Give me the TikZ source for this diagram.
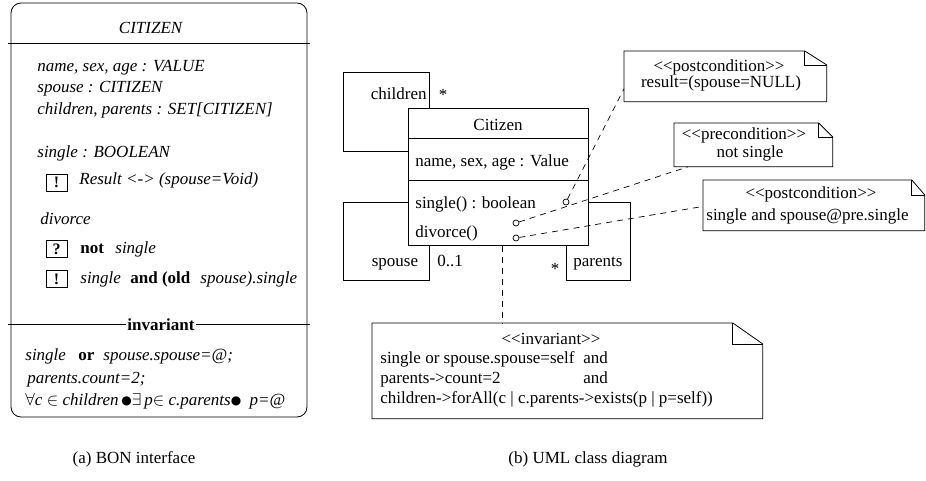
\documentclass[tikz,border=0pt]{standalone}
\usepackage{fontspec}
\setmainfont{Liberation Serif}
\newfontfamily\dejavu{DejaVu Sans}
\usetikzlibrary{calc}
\newcommand{\blt}{\raisebox{0.8pt}{\dejavu\fontsize{12}{12}\selectfont ●}}
\begin{document}
\begin{tikzpicture}[x=1pt,y=-1pt,line width=0.8pt,
  every node/.style={inner sep=0pt,font=\fontsize{17}{20}\selectfont},
  txt/.style={anchor=base west},
  ctxt/.style={anchor=base},
  flagbox/.style={draw,minimum width=21pt,minimum height=17pt,font=\fontsize{16}{16}\selectfont\bfseries},
  notebody/.style={minimum width=#1,anchor=north west},
  port/.style={circle,draw,minimum size=6pt,inner sep=0pt,line width=0.7pt},
  conn/.style={dash pattern=on 6pt off 5pt,line width=0.7pt}]
\useasboundingbox (0,0) rectangle (926,481);

% ---------- BON interface ----------
\draw[rounded corners=10pt] (11,3) rectangle (307,417);
\coordinate (t1) at (8,43); \coordinate (t2) at (310,43);
\draw (t1) -- (t2);
\node[ctxt] (title) at (151,34) {\textit{CITIZEN}};
\node[txt] (a1) at (37,72) {\textit{name, sex, age : VALUE}};
\node[txt] (a2) at (37,93) {\textit{spouse : CITIZEN}};
\node[txt] (a3) at (37,115) {\textit{children, parents : SET[CITIZEN]}};
\node[txt] (a4) at (37,158) {\textit{single : BOOLEAN}};
\node[flagbox] (f1) at (56.5,182.5) {!};
\node[txt] (a5) at (79,185) {\textit{Result <-> (spouse=Void)}};
\node[txt] (a6) at (40,225) {\textit{divorce}};
\node[flagbox] (f2) at (56.5,249) {?};
\node[txt] (a7) at (80,253) {\textbf{not}};
\node[txt] (a8) at (115,253) {\textit{single}};
\node[flagbox] (f3) at (56.5,279) {!};
\node[txt] (a9) at (80,283) {\textit{single}};
\node[txt] (a10) at (130,283) {\textbf{and (old}};
\node[txt] (a11) at (200,283) {\textit{spouse).single}};
\coordinate (i1) at (8,324); \coordinate (i2) at (310,324);
\draw (i1) -- (i2);
\node[ctxt,fill=white,inner xsep=1pt,inner ysep=1pt] (inv) at (161,330) {\textbf{invariant}};
\node[txt] (b1) at (25,360) {\textit{single}};
\node[txt] (b2) at (78,360) {\textbf{or}};
\node[txt] (b3) at (103,360) {\textit{spouse.spouse=@;}};
\node[txt] (b4) at (27,383) {\textit{parents.count=2;}};
\node[txt] (b5) at (25,405) {$\forall$\textit{c} $\in$ \textit{children}\,\blt$\exists$\,\textit{p}$\in$ \textit{c.parents}\blt\ \ \textit{p=@}};

% ---------- UML class ----------
\node[draw,minimum width=180pt,minimum height=137pt,anchor=north west] (cls) at (408,108) {};
\draw (408,138) -- (588,138);
\draw (408,180) -- (588,180);
\node[ctxt] (cname) at (498,131) {Citizen};
\node[txt] (attr) at (415,167) {name, sex, age : Value};
\node[txt] (op1) at (415,208) {single() : boolean};
\node[txt] (op2) at (415,237) {divorce()};

% self associations
\draw ($(cls.north west)+(0,43)$) -| (343,72) -| ($(cls.north west)+(21,0)$);
\draw ($(cls.north west)+(0,94)$) -| (343,280) -| ($(cls.south west)+(21,0)$);
\draw ($(cls.north east)+(0,94)$) -| (630,280) -| ($(cls.south east)+(-22,0)$);
\node[anchor=base east] (lch) at (427,100) {children};
\node[ctxt] (mch) at (443,101) {*};
\node[ctxt] (lsp) at (395,266) {spouse};
\node[txt] (msp) at (437,266) {0..1};
\node[txt] (lpa) at (573,266) {parents};
\node[ctxt] (mpa) at (555,274) {*};

% ports
\node[port] (c1) at (566,202) {};
\node[port] (c2) at (516,223) {};
\node[port] (c3) at (516,238) {};

% ---------- notes ----------
\node[notebody=202pt,minimum height=50pt] (n1) at (624,51) {};
\draw (n1.north west) -- ($(n1.north east)+(-22,0)$) -- ($(n1.north east)+(0,14)$) -- (n1.south east) -- (n1.south west) -- cycle;
\draw ($(n1.north east)+(-22,0)$) -- ++(0,14) -- ++(22,0);
\node[ctxt] (n1a) at (719,72) {<{}<postcondition>{}>};
\node[ctxt] (n1b) at (721,88) {result=(spouse=NULL)};

\node[notebody=158pt,minimum height=43pt] (n2) at (674,123) {};
\draw (n2.north west) -- ($(n2.north east)+(-14,0)$) -- ($(n2.north east)+(0,14)$) -- (n2.south east) -- (n2.south west) -- cycle;
\draw ($(n2.north east)+(-14,0)$) -- ++(0,14) -- ++(14,0);
\node[ctxt] (n2a) at (744,140) {<{}<precondition>{}>};
\node[ctxt] (n2b) at (750,158) {not single};

\node[notebody=221pt,minimum height=50pt] (n3) at (703,180) {};
\draw (n3.north west) -- ($(n3.north east)+(-13,0)$) -- ($(n3.north east)+(0,15)$) -- (n3.south east) -- (n3.south west) -- cycle;
\draw ($(n3.north east)+(-13,0)$) -- ++(0,15) -- ++(13,0);
\node[ctxt] (n3a) at (811,199) {<{}<postcondition>{}>};
\node[txt] (n3b) at (706,220) {single and spouse@pre.single};

\node[notebody=390pt,minimum height=95pt] (n4) at (372,323) {};
\draw (n4.north west) -- ($(n4.north east)+(-30,0)$) -- ($(n4.north east)+(0,21)$) -- (n4.south east) -- (n4.south west) -- cycle;
\draw ($(n4.north east)+(-30,0)$) -- ++(0,21) -- ++(30,0);
\node[ctxt] (n4a) at (551,344) {<{}<invariant>{}>};
\node[txt] (n4b) at (380,363) {single or spouse.spouse=self};
\node[txt] (n4c) at (583,363) {and};
\node[txt] (n4d) at (380,383) {parents->count=2};
\node[txt] (n4e) at (583,383) {and};
\node[txt] (n4f) at (380,403) {children->forAll(c | c.parents->exists(p | p=self))};

% ---------- connectors ----------
\draw[conn] (c1) -- ($(n1.south west)+(0,-13)$);
\draw[conn] (c2) -- ($(n2.south west)+(14,0)$);
\draw[conn] (c3) -- ($(n3.west)+(0,1)$);
\coordinate (ib) at ($(cls.south)+(4,0)$);
\draw[conn] (ib) -- (ib |- n4.north);

% ---------- captions ----------
\node (capa) at (134,459) {(a) BON interface};
\node (capb) at (588,459) {(b) UML class diagram};
\end{tikzpicture}
\end{document}
